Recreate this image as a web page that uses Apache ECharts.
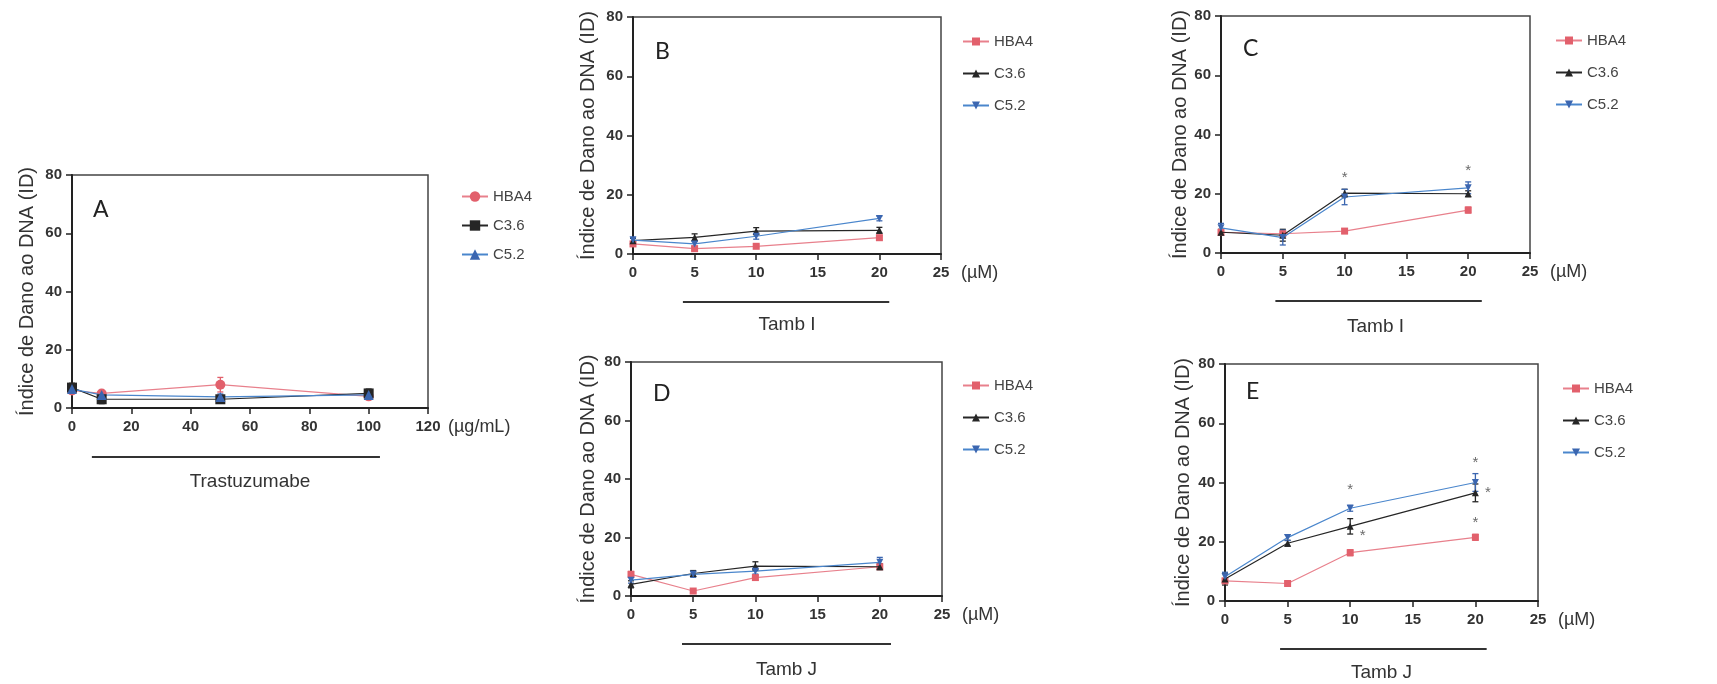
<!DOCTYPE html>
<html>
<head>
<meta charset="utf-8">
<script src="https://cdn.jsdelivr.net/npm/echarts@6/dist/echarts.min.js"></script>
<style>
  html, body { margin: 0; padding: 0; background: #fff; }
  #chart { width: 1717px; height: 684px; }
</style>
</head>
<body>
<div id="chart"></div>
<script>
// doses (x values)
const doseTrastu = [0, 10, 50, 100];
const doseTamb = [0, 5, 10, 20];
const cellLines = ['HBA4', 'C3.6', 'C5.2'];
const yTicks = [0, 20, 40, 60, 80];
const xTicksTrastu = [0, 20, 40, 60, 80, 100, 120];
const xTicksTamb = [0, 5, 10, 15, 20, 25];

// A - Trastuzumabe
const hba4A = [6, 5, 8, 4];
const c36A = [7, 3, 3, 5];
const c52A = [6.5, 4.5, 3.8, 4.5];
const hba4AErr = [1, 0.5, 2.5, 1];
const c36AErr = [1.5, 1.5, 1, 1.5];
const c52AErr = [1.5, 1.5, 1, 1];

// B - Tamb I
const hba4B = [3.4, 1.8, 2.6, 5.5];
const c36B = [4.5, 5.6, 7.7, 8];
const c52B = [4.7, 3.4, 6, 12];
const hba4BErr = [0.5, 0.5, 0.5, 0.8];
const c36BErr = [0.8, 1.2, 1.2, 1];
const c52BErr = [1, 0.8, 1, 0.8];

// C - Tamb I
const hba4C = [7, 6.5, 7.4, 14.5];
const c36C = [7, 6, 20.2, 20];
const c52C = [8.5, 5.2, 18.9, 22];
const hba4CErr = [0.5, 0.5, 0.8, 1];
const c36CErr = [1, 2, 1.3, 1];
const c52CErr = [1.5, 2.5, 2.6, 2];
const starsC = [[10, 26.4], [20, 28.7]];

// D - Tamb J
const hba4D = [7.4, 1.7, 6.3, 10];
const c36D = [4, 7.7, 10.2, 10];
const c52D = [5.4, 7.4, 8.5, 11.5];
const hba4DErr = [1, 0.5, 0.8, 0.8];
const c36DErr = [1.2, 1, 1.5, 1];
const c52DErr = [1, 1, 1, 1.7];

// E - Tamb J
const hba4E = [6.8, 5.9, 16.3, 21.5];
const c36E = [7.4, 19.5, 25.2, 36.5];
const c52E = [8.2, 21.4, 31.3, 40];
const hba4EErr = [0.8, 0.5, 1, 1];
const c36EErr = [2, 1, 2.6, 3];
const c52EErr = [1.5, 1, 1, 3];
const starsE = [[10, 38.6], [11, 23], [20, 47.6], [21, 37.5], [20, 27.3]];

const invTri = 'path://M0,0 L10,0 L5,9 Z';
const colors = ['#e2606c', '#262626', '#3b66b0'];
const lineColors = ['#e8808c', '#262626', '#4a86cc'];

const panels = [
  { key: 'A', dose: doseTrastu, xTicks: xTicksTrastu, vals: [hba4A, c36A, c52A], errs: [hba4AErr, c36AErr, c52AErr],
    stars: [], unit: '(µg/mL)', agent: 'Trastuzumabe', bracket: [6.7, 103.8],
    grid: { left: 72, top: 175, width: 356, height: 233 }, legend: { left: 456, top: 184, h: 13 },
    letter: [93, 198], symbols: ['circle', 'rect', 'triangle'], symSize: 10, nameGap: 35, agentGap: 64 },
  { key: 'B', dose: doseTamb, xTicks: xTicksTamb, vals: [hba4B, c36B, c52B], errs: [hba4BErr, c36BErr, c52BErr],
    stars: [], unit: '(µM)', agent: 'Tamb I', bracket: [4.05, 20.8],
    grid: { left: 633, top: 17, width: 308, height: 237 }, legend: { left: 957, top: 29, h: 10 },
    letter: [655, 40], symbols: ['rect', 'triangle', invTri], symSize: 7, nameGap: 35, agentGap: 61 },
  { key: 'C', dose: doseTamb, xTicks: xTicksTamb, vals: [hba4C, c36C, c52C], errs: [hba4CErr, c36CErr, c52CErr],
    stars: starsC, unit: '(µM)', agent: 'Tamb I', bracket: [4.4, 21.1],
    grid: { left: 1221, top: 16, width: 309, height: 237 }, legend: { left: 1550, top: 28, h: 10 },
    letter: [1243, 37], symbols: ['rect', 'triangle', invTri], symSize: 7, nameGap: 31, agentGap: 64 },
  { key: 'D', dose: doseTamb, xTicks: xTicksTamb, vals: [hba4D, c36D, c52D], errs: [hba4DErr, c36DErr, c52DErr],
    stars: [], unit: '(µM)', agent: 'Tamb J', bracket: [4.1, 20.9],
    grid: { left: 631, top: 362, width: 311, height: 234 }, legend: { left: 957, top: 373, h: 10 },
    letter: [653, 382], symbols: ['rect', 'triangle', invTri], symSize: 7, nameGap: 33, agentGap: 64 },
  { key: 'E', dose: doseTamb, xTicks: xTicksTamb, vals: [hba4E, c36E, c52E], errs: [hba4EErr, c36EErr, c52EErr],
    stars: starsE, unit: '(µM)', agent: 'Tamb J', bracket: [4.4, 20.9],
    grid: { left: 1225, top: 364, width: 313, height: 237 }, legend: { left: 1557, top: 376, h: 10 },
    letter: [1246, 380], symbols: ['rect', 'triangle', invTri], symSize: 7, nameGap: 32, agentGap: 62 }
];

const font = 'Liberation Sans, Arial, sans-serif';
const grids = [], xAxes = [], yAxes = [], series = [], legends = [];

panels.forEach((p, i) => {
  const xMax = p.xTicks[p.xTicks.length - 1];
  const xStep = p.xTicks[1] - p.xTicks[0];
  grids.push(Object.assign({ show: true, borderColor: '#444', borderWidth: 1.5, containLabel: false }, p.grid));

  xAxes.push({
    type: 'value', gridIndex: i, min: 0, max: xMax, interval: xStep, position: 'bottom',
    name: p.agent, nameLocation: 'middle', nameGap: p.agentGap,
    nameTextStyle: { fontFamily: font, fontSize: 19, color: '#333' },
    axisLine: { onZero: false, lineStyle: { color: '#222', width: 2 } },
    axisTick: { length: 6, lineStyle: { color: '#222', width: 1.5 } },
    axisLabel: { margin: 11, fontFamily: font, fontWeight: 'bold', fontSize: 15, color: '#333' },
    splitLine: { show: false }
  });
  yAxes.push({
    type: 'value', gridIndex: i, min: yTicks[0], max: yTicks[yTicks.length - 1], interval: yTicks[1] - yTicks[0],
    name: 'Índice de Dano ao DNA (ID)', nameLocation: 'middle', nameGap: p.nameGap,
    nameTextStyle: { fontFamily: font, fontSize: 20, color: '#333' },
    axisLine: { show: true, lineStyle: { color: '#222', width: 2 } },
    axisTick: { show: true, length: 6, lineStyle: { color: '#222', width: 1.5 } },
    axisLabel: { margin: 10, fontFamily: font, fontWeight: 'bold', fontSize: 15, color: '#333' },
    splitLine: { show: false }
  });

  const names = cellLines.map(c => c + '|' + p.key);
  cellLines.forEach((c, k) => {
    const errData = p.dose.map((d, j) => [d, p.vals[k][j] - p.errs[k][j], p.vals[k][j] + p.errs[k][j]]);
    series.push({
      type: 'custom', xAxisIndex: i, yAxisIndex: i, silent: true, z: 2,
      data: errData,
      renderItem: (params, api) => {
        const lo = api.coord([api.value(0), api.value(1)]);
        const hi = api.coord([api.value(0), api.value(2)]);
        const st = { stroke: colors[k], lineWidth: 1.3 };
        return { type: 'group', children: [
          { type: 'line', shape: { x1: lo[0], y1: lo[1], x2: hi[0], y2: hi[1] }, style: st },
          { type: 'line', shape: { x1: hi[0] - 3, y1: hi[1], x2: hi[0] + 3, y2: hi[1] }, style: st },
          { type: 'line', shape: { x1: lo[0] - 3, y1: lo[1], x2: lo[0] + 3, y2: lo[1] }, style: st }
        ] };
      }
    });
    series.push({
      name: names[k], type: 'line', xAxisIndex: i, yAxisIndex: i, z: 3 + (k === 0 ? 0 : 1),
      data: p.dose.map((d, j) => [d, p.vals[k][j]]),
      symbol: p.symbols[k], symbolSize: p.symSize, showSymbol: true,
      itemStyle: { color: colors[k] },
      lineStyle: { color: lineColors[k], width: 1.2 }
    });
  });

  if (p.stars.length) {
    series.push({
      type: 'scatter', xAxisIndex: i, yAxisIndex: i, silent: true, z: 6,
      data: p.stars, symbolSize: 2, itemStyle: { color: 'rgba(0,0,0,0)' },
      label: { show: true, formatter: '*', position: 'inside', offset: [0, 3],
        fontFamily: font, fontSize: 15, color: '#444' }
    });
  }

  legends.push({
    orient: 'vertical', left: p.legend.left, top: p.legend.top,
    itemWidth: 26, itemHeight: p.legend.h, itemGap: 27 - p.legend.h,
    data: names, selectedMode: false,
    formatter: n => n.split('|')[0],
    textStyle: { fontFamily: font, fontSize: 15, color: '#444' }
  });
});

const chart = echarts.init(document.getElementById('chart'));
chart.setOption({
  animation: false,
  backgroundColor: '#fff',
  grid: grids, xAxis: xAxes, yAxis: yAxes, legend: legends, series: series
});

// bracket lines, unit labels beside the axis end, panel letters
const graphics = [];
panels.forEach((p, i) => {
  const xMax = p.xTicks[p.xTicks.length - 1];
  const x1 = chart.convertToPixel({ xAxisIndex: i }, p.bracket[0]);
  const x2 = chart.convertToPixel({ xAxisIndex: i }, p.bracket[1]);
  const end = chart.convertToPixel({ gridIndex: i }, [xMax, 0]);
  const y = p.grid.top + p.grid.height + (p.key === 'A' ? 49 : 48);
  graphics.push({ type: 'line', shape: { x1: x1, y1: y, x2: x2, y2: y }, style: { stroke: '#333', lineWidth: 1.8 } });
  graphics.push({ type: 'text', x: end[0] + 20, y: end[1] + 19,
    style: { text: p.unit, font: '18px ' + font, fill: '#333', verticalAlign: 'middle', align: 'left' } });
  graphics.push({ type: 'text', left: p.letter[0], top: p.letter[1],
    style: { text: p.key, font: '23px Lato, "Open Sans", sans-serif', fill: '#222' } });
});
chart.setOption({ graphic: graphics });
</script>
</body>
</html>
